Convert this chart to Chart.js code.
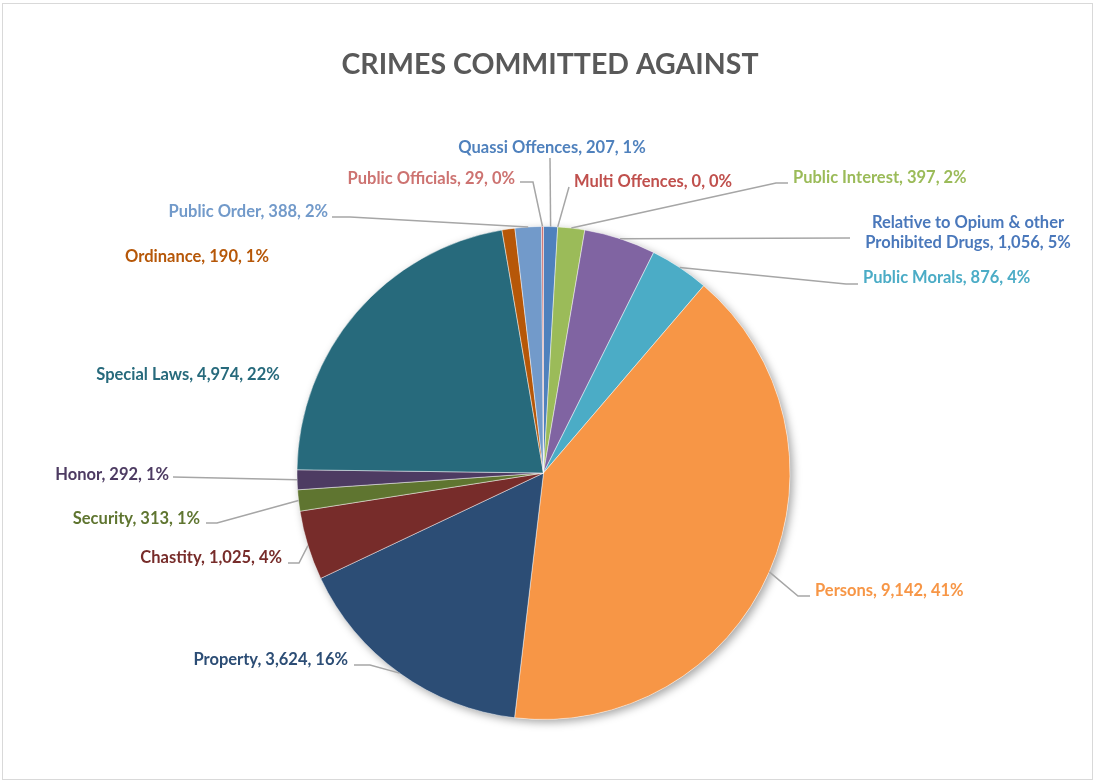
<!DOCTYPE html>
<html>
<head>
<meta charset="utf-8">
<script src="https://cdn.jsdelivr.net/npm/chart.js@4.4.1/dist/chart.umd.min.js"></script>
<style>
  html, body { margin: 0; padding: 0; background: #fff; }
  #wrap { position: relative; width: 1094px; height: 782px; }
  #frame {
    position: absolute; left: 2px; top: 3px; width: 1089px; height: 775px;
    border: 1px solid #d9d9d9; pointer-events: none;
  }
</style>
</head>
<body>
<div id="wrap">
  <canvas id="chart" width="1094" height="782"></canvas>
  <div id="frame"></div>
</div>
<script>
const chartTitle = "CRIMES COMMITTED AGAINST";
const categories = [
  "Quassi Offences",
  "Multi Offences",
  "Public Interest",
  "Relative to Opium & other Prohibited Drugs",
  "Public Morals",
  "Persons",
  "Property",
  "Chastity",
  "Security",
  "Honor",
  "Special Laws",
  "Ordinance",
  "Public Order",
  "Public Officials",
];
const counts = [207, 0, 397, 1056, 876, 9142, 3624, 1025, 313, 292, 4974, 190, 388, 29];

const sliceColors = [
  "#4f81bd", "#c0504d", "#9bbb59", "#8064a2", "#4bacc6", "#f79646", "#2c4d75",
  "#772c2a", "#5f7530", "#4d3b62", "#276a7c", "#b65708", "#729aca", "#cd7371",
];
const labelColors = sliceColors.slice();
labelColors[3] = "#4a78bb";

// where each data label sits; leader = points from the text toward the slice edge
const labelSpots = [
  { x: 552, y: 148, align: "center", leader: [[550, 158]] },
  { x: 574, y: 182, align: "left", leader: [[569, 187]] },
  { x: 793, y: 178, align: "left", leader: [[788, 183], [776, 183]] },
  { x: 968, y: 223, align: "center", split: 25, leader: [[850, 238]] },
  { x: 863, y: 278, align: "left", leader: [[858, 284], [846, 284]] },
  { x: 815, y: 591, align: "left", leader: [[810, 596], [798, 596]] },
  { x: 348, y: 660, align: "right", leader: [[354, 665], [370, 665]] },
  { x: 282, y: 558, align: "right", leader: [[288, 563], [299, 563]] },
  { x: 200, y: 519, align: "right", leader: [[206, 523], [217, 523]] },
  { x: 169, y: 475, align: "right", leader: [[173, 477]] },
  { x: 188, y: 375, align: "center", leader: [] },
  { x: 197, y: 257, align: "center", leader: [] },
  { x: 328, y: 212, align: "right", leader: [[332, 217], [350, 217]] },
  { x: 515, y: 179, align: "right", leader: [[520, 182], [533, 182]] },
];

// whole-number percentages that add up to 100 (largest remainder)
function roundedShares(values) {
  const total = values.reduce((a, b) => a + b, 0);
  const raw = values.map((v) => (v / total) * 100);
  const out = raw.map(Math.floor);
  let left = 100 - out.reduce((a, b) => a + b, 0);
  const order = raw
    .map((r, i) => ({ i, rem: r - Math.floor(r) }))
    .sort((a, b) => b.rem - a.rem);
  for (let k = 0; k < left; k++) out[order[k].i] += 1;
  return out;
}

const shares = roundedShares(counts);
const labelFont = "bold 16.5px Lato";

const pieShadow = {
  id: "pieShadow",
  beforeDatasetsDraw(chart) {
    const arc = chart.getDatasetMeta(0).data[0];
    if (!arc) return;
    const ctx = chart.ctx;
    ctx.save();
    ctx.shadowColor = "rgba(0, 0, 0, 0.35)";
    ctx.shadowBlur = 9;
    ctx.shadowOffsetX = 3;
    ctx.shadowOffsetY = 3;
    ctx.fillStyle = "#fff";
    ctx.beginPath();
    ctx.arc(arc.x, arc.y, arc.outerRadius, 0, Math.PI * 2);
    ctx.fill();
    ctx.restore();
  },
};

// title drawn by hand so it can sit a little right of the pie centre
const titleText = {
  id: "titleText",
  afterDraw(chart) {
    const ctx = chart.ctx;
    ctx.save();
    ctx.font = "bold 28.5px Lato";
    ctx.fillStyle = "#595959";
    ctx.textAlign = "center";
    ctx.textBaseline = "middle";
    ctx.fillText(chartTitle, 550, 65);
    ctx.restore();
  },
};

const sliceLabels = {
  id: "sliceLabels",
  afterDatasetsDraw(chart) {
    const ctx = chart.ctx;
    const arcs = chart.getDatasetMeta(0).data;
    ctx.save();
    arcs.forEach((arc, i) => {
      const spot = labelSpots[i];
      const mid = (arc.startAngle + arc.endAngle) / 2;
      const edgeX = arc.x + Math.cos(mid) * arc.outerRadius;
      const edgeY = arc.y + Math.sin(mid) * arc.outerRadius;

      if (spot.leader.length) {
        ctx.strokeStyle = "#a6a6a6";
        ctx.lineWidth = 1.5;
        ctx.beginPath();
        ctx.moveTo(spot.leader[0][0], spot.leader[0][1]);
        spot.leader.slice(1).forEach((p) => ctx.lineTo(p[0], p[1]));
        ctx.lineTo(edgeX, edgeY);
        ctx.stroke();
      }

      const name = categories[i];
      const tail = counts[i].toLocaleString("en-US") + ", " + shares[i] + "%";
      let lines;
      if (spot.split) {
        lines = [name.slice(0, spot.split).trim(), name.slice(spot.split).trim() + ", " + tail];
      } else {
        lines = [name + ", " + tail];
      }
      ctx.font = labelFont;
      ctx.fillStyle = labelColors[i];
      ctx.textAlign = spot.align;
      ctx.textBaseline = "middle";
      lines.forEach((line, k) => ctx.fillText(line, spot.x, spot.y + k * 20));
    });
    ctx.restore();
  },
};

new Chart(document.getElementById("chart"), {
  type: "pie",
  data: {
    labels: categories,
    datasets: [
      {
        data: counts,
        backgroundColor: sliceColors,
        borderColor: "rgba(255, 255, 255, 0.45)",
        borderWidth: 1,
      },
    ],
  },
  options: {
    responsive: false,
    animation: false,
    layout: { padding: { left: 296, right: 303, top: 226, bottom: 62 } },
    plugins: {
      legend: { display: false },
      tooltip: { enabled: false },
      title: { display: false },
    },
  },
  plugins: [pieShadow, sliceLabels, titleText],
});
</script>
</body>
</html>
